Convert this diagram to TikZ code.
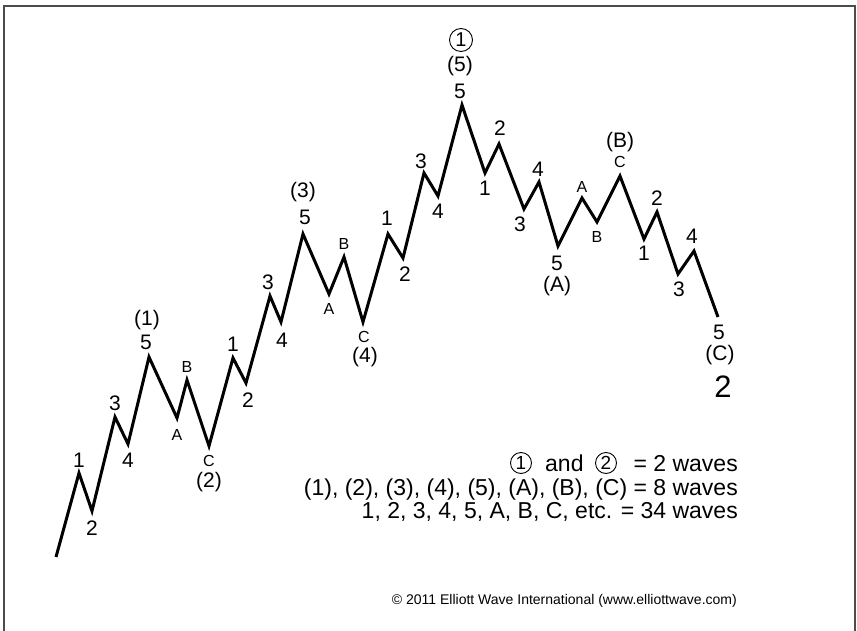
\documentclass[tikz,border=0pt]{standalone}
\usepackage{fontspec}
\setmainfont{Liberation Sans}
\begin{document}
\begin{tikzpicture}[x=1pt,y=-1pt,
  frame/.style={draw=black!70, line width=2pt},
  wave/.style={line width=3pt, line join=miter, miter limit=10},
  lab/.style={font=\fontsize{21}{23}\selectfont, inner sep=0pt},
  sm/.style={font=\fontsize{16}{18}\selectfont, inner sep=0pt},
  big/.style={font=\fontsize{31}{34}\selectfont, inner sep=0pt},
  legtxt/.style={font=\fontsize{23}{26}\selectfont, inner sep=0pt},
  circtop/.style={draw, circle, line width=0.9pt, minimum size=23pt, inner sep=0pt, font=\fontsize{20}{22}\selectfont},
  circleg/.style={draw, circle, line width=0.9pt, minimum size=21pt, inner sep=0pt, font=\fontsize{19}{21}\selectfont},
  copy/.style={font=\fontsize{14}{16}\selectfont, inner sep=0pt}]
\useasboundingbox (0,0) rectangle (857,631);
\draw[frame] (4,632) -- (4,6) -- (855,6) -- (855,632);

% wave vertices
\coordinate (p0) at (56,557);
\coordinate (p1) at (79,473);
\coordinate (p2) at (92,511);
\coordinate (p3) at (115,417);
\coordinate (p4) at (128,444);
\coordinate (p5) at (149,357);
\coordinate (p6) at (177,418);
\coordinate (p7) at (187,380);
\coordinate (p8) at (209,446);
\coordinate (p9) at (233,358);
\coordinate (p10) at (246,383);
\coordinate (p11) at (270,296);
\coordinate (p12) at (281,322);
\coordinate (p13) at (303,234);
\coordinate (p14) at (329,294);
\coordinate (p15) at (344,257);
\coordinate (p16) at (363,322);
\coordinate (p17) at (388,234);
\coordinate (p18) at (403,258);
\coordinate (p19) at (424,173);
\coordinate (p20) at (438,196);
\coordinate (p21) at (462,105);
\coordinate (p22) at (485,173);
\coordinate (p23) at (499,144);
\coordinate (p24) at (524,209);
\coordinate (p25) at (539,182);
\coordinate (p26) at (558,246);
\coordinate (p27) at (582,198);
\coordinate (p28) at (597,222);
\coordinate (p29) at (620,176);
\coordinate (p30) at (644,239);
\coordinate (p31) at (657,212);
\coordinate (p32) at (678,274);
\coordinate (p33) at (694,251);
\coordinate (p34) at (718,317);

\draw[wave] (p0) -- (p1) -- (p2) -- (p3) -- (p4) -- (p5) -- (p6) -- (p7) -- (p8)
  -- (p9) -- (p10) -- (p11) -- (p12) -- (p13) -- (p14) -- (p15) -- (p16)
  -- (p17) -- (p18) -- (p19) -- (p20) -- (p21) -- (p22) -- (p23) -- (p24)
  -- (p25) -- (p26) -- (p27) -- (p28) -- (p29) -- (p30) -- (p31) -- (p32)
  -- (p33) -- (p34);

% labels: wave (1)
\node[lab] (l1) at (79,460) {1};
\node[lab] (l2) at (92,528) {2};
\node[lab] (l3) at (115,403) {3};
\node[lab] (l4) at (128,460) {4};
\node[lab] (l5) at (146,342) {5};
\node[lab] (lw1) at (147,320) {(1)};
% wave (2)
\node[sm] (la1) at (177,435) {A};
\node[sm] (lb1) at (187,367) {B};
\node[sm] (lc1) at (209,461) {C};
\node[lab] (lw2) at (209,482) {(2)};
% wave (3)
\node[lab] (m1) at (233,344) {1};
\node[lab] (m2) at (248,400) {2};
\node[lab] (m3) at (268,282) {3};
\node[lab] (m4) at (282,340) {4};
\node[lab] (m5) at (305,217) {5};
\node[lab] (lw3) at (303,192) {(3)};
% wave (4)
\node[sm] (la2) at (329,309) {A};
\node[sm] (lb2) at (344,244) {B};
\node[sm] (lc2) at (364,337) {C};
\node[lab] (lw4) at (365,357) {(4)};
% wave (5)
\node[lab] (n1) at (387,218) {1};
\node[lab] (n2) at (405,274) {2};
\node[lab] (n3) at (421,161) {3};
\node[lab] (n4) at (438,211) {4};
\node[lab] (n5) at (460,91) {5};
\node[lab] (lw5) at (460,66) {(5)};
\node[circtop] (big1) at (461,40) {1};
% wave (A)
\node[lab] (q1) at (485,188) {1};
\node[lab] (q2) at (500,128) {2};
\node[lab] (q3) at (520,224) {3};
\node[lab] (q4) at (538,169) {4};
\node[lab] (q5) at (557,263) {5};
\node[lab] (lwa) at (557,286) {(A)};
% wave (B)
\node[sm] (la3) at (582,187) {A};
\node[sm] (lb3) at (597,237) {B};
\node[sm] (lc3) at (620,162) {C};
\node[lab] (lwb) at (620,142) {(B)};
% wave (C)
\node[lab] (r1) at (644,253) {1};
\node[lab] (r2) at (657,198) {2};
\node[lab] (r3) at (679,289) {3};
\node[lab] (r4) at (692,236) {4};
\node[lab] (r5) at (719,332) {5};
\node[lab] (lwc) at (720,355) {(C)};
\node[big] (big2) at (723,387) {2};

% legend
\node[legtxt, anchor=base east] (g1d) at (738,471) {= 2 waves};
\node[circleg] (g1c) at (606,463) {2};
\node[legtxt, anchor=base west] (g1b) at (545,471) {and};
\node[circleg] (g1a) at (521,463) {1};
\node[legtxt, anchor=base east] (g2) at (738,495) {(1), (2), (3), (4), (5), (A), (B), (C) = 8 waves};
\node[legtxt, anchor=base east] (g3) at (738,518) {1, 2, 3, 4, 5, A, B, C, etc. = 34 waves};

\node[copy, anchor=base east] (cr) at (737,604) {© 2011 Elliott Wave International (www.elliottwave.com)};
\end{tikzpicture}
\end{document}
